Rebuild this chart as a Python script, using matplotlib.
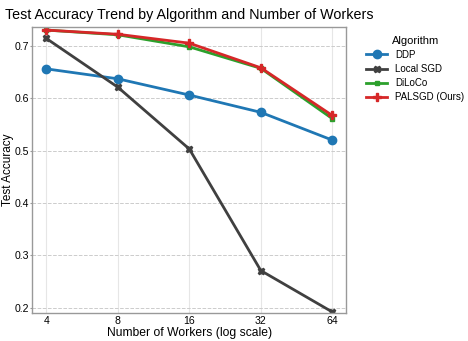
import numpy as np
import matplotlib
matplotlib.use("Agg")
import matplotlib.pyplot as plt

workers = [4, 8, 16, 32, 64]
ddp = [0.656, 0.637, 0.606, 0.573, 0.520]
local_sgd = [0.714, 0.621, 0.503, 0.271, 0.192]
diloco = [0.730, 0.721, 0.698, 0.657, 0.561]
palsgd = [0.730, 0.722, 0.705, 0.658, 0.567]

plt.rcParams['font.family'] = ['Liberation Sans', 'DejaVu Sans']

fig = plt.figure(figsize=(4.68, 3.41), dpi=100)
ax = fig.add_axes([0.069, 0.082, 0.671, 0.839])

ax.plot(workers, ddp, color='#1f77b4', marker='o', ms=6, lw=2, label='DDP')
ax.plot(workers, local_sgd, color='#404040', marker='X', ms=5, lw=2, label='Local SGD')
ax.plot(workers, diloco, color='#2ca02c', marker='s', ms=3.5, lw=2, label='DiLoCo')
ax.plot(workers, palsgd, color='#d62728', marker='P', ms=6, lw=2, label='PALSGD (Ours)')

ax.set_xscale('log', base=2)
ax.set_xticks(workers)
ax.set_xticklabels([str(w) for w in workers])
ax.minorticks_off()
ax.set_xlim(3.49, 73.3)
ax.set_ylim(0.19, 0.736)
ax.set_yticks([0.2, 0.3, 0.4, 0.5, 0.6, 0.7])

ax.grid(True, axis='x', color='#e6e6e6', lw=0.8, ls='-')
ax.grid(True, axis='y', color='#cccccc', lw=0.7, ls='--')
ax.set_axisbelow(True)
for s in ax.spines.values():
    s.set_color('#999999')
    s.set_linewidth(1.0)
ax.tick_params(axis='both', labelsize=7.6, length=1.5, color='#999999', pad=0.5)
ax.tick_params(axis='x', length=0, pad=2)

ax.set_title('Test Accuracy Trend by Algorithm and Number of Workers', fontsize=10.3, pad=6)
ax.set_xlabel('Number of Workers (log scale)', fontsize=8.7, labelpad=1)
ax.set_ylabel('Test Accuracy', fontsize=8.5, labelpad=0.5)

leg = ax.legend(title='Algorithm', loc='upper left', bbox_to_anchor=(1.035, 1.0),
                frameon=False, fontsize=7, title_fontsize=8,
                handlelength=2.2, labelspacing=0.43, borderaxespad=0.5)

fig.savefig('out.png', dpi=100)
